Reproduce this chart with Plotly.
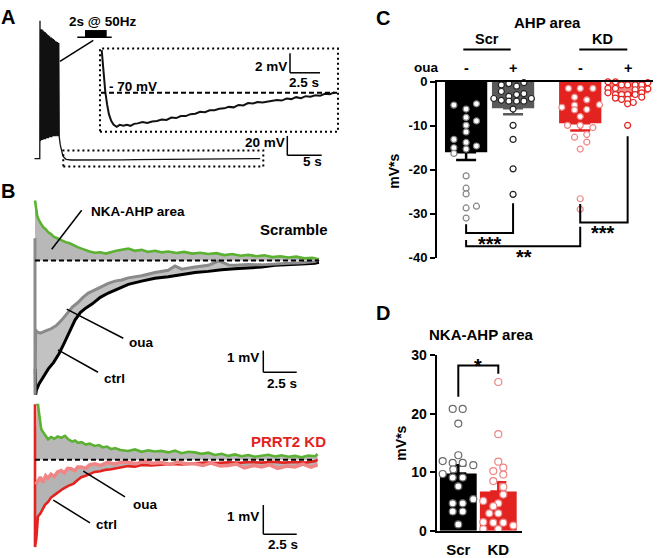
import plotly.graph_objects as go

W, H = 657, 558
FONT = "Liberation Sans"

# ---------------- Panel C : AHP area (mV*s) ----------------
c_groups = ["Scr ctrl", "Scr oua", "KD ctrl", "KD oua"]
c_means = [-16.0, -6.0, -9.4, -2.6]
c_sems = [1.8, 1.4, 1.7, 0.5]
c_scr_ctrl = [-5.3, -6.2, -5.0, -8.1, -9.9, -8.9, -11.4, -13.1, -15.0, -13.8, -14.6, -16.3, -15.3,
              -21.4, -24.2, -25.5, -28.7, -28.3, -31.0]
c_scr_oua = [-0.7, -0.4, -1.0, -0.2, -2.2, -3.3, -2.9, -2.7, -3.8, -4.2, -4.4, -4.4, -4.4, -3.8,
             -6.2, -9.9, -13.1, -19.8, -25.6]
c_kd_ctrl = [-1.5, -1.5, -1.5, -3.5, -4.1, -5.8, -5.3, -5.2, -6.4, -6.3, -7.9, -9.9, -9.9, -10.4,
             -12.6, -12.0, -13.7, -15.3, -26.6, -29.0]
c_kd_oua = [0.0, 0.0, -0.7, -0.7, -0.7, -0.7, -0.2, -1.5, -1.5, -1.8, -1.8, -1.6, -2.5, -2.9, -2.9,
            -2.9, -2.9, -2.5, -3.7, -4.0, -4.0, -3.5, -5.0, -4.7, -9.9]
# horizontal scatter of the dots (category units)
c_scr_ctrl_jit = [-0.26, 0, 0.22, 0, 0, 0.22, 0, -0.26, -0.26, 0, 0.22, -0.26, 0, 0, 0, 0, 0, 0.22, 0]
c_scr_oua_jit = [-0.25, -0.09, 0.075, 0.23, -0.25, -0.09, 0.075, 0.23, -0.41, -0.25, -0.09, 0.075,
                 0.23, 0.39, 0, 0, 0, 0, 0]
c_kd_ctrl_jit = [-0.25, 0, 0.27, -0.12, 0.14, -0.39, -0.12, 0.41, -0.12, 0.14, 0, -0.27, 0, 0.27,
                 -0.12, 0.14, 0.14, 0, 0, 0]
c_kd_oua_jit = [-0.42, -0.26, -0.13, 0, 0.16, 0.3, 0.43, -0.42, -0.26, 0.16, 0.3, 0.43, -0.42, -0.26,
                -0.13, 0, 0.16, 0.3, -0.26, -0.13, 0, 0.3, 0, 0.12, 0]
c_yticks = [0, -10, -20, -30, -40]

# ---------------- Panel D : NKA-AHP area (mV*s) ----------------
d_groups = ["Scr", "KD"]
d_means = [9.8, 6.7]
d_sems = [1.4, 1.6]
d_scr = [20.8, 20.8, 18.3, 12.9, 11.9, 11.6, 11.6, 11.2, 10.5, 9.7, 9.1, 9.1, 7.6, 5.4, 4.7, 4.7,
         3.3, 3.3, 1.1]
d_kd = [25.4, 16.5, 11.8, 10.8, 10.2, 9.6, 8.5, 7.5, 6.2, 5.1, 4.7, 4.2, 3.0, 3.0, 1.5, 1.4, 1.4,
        0.9, 0.3, 0.3]
d_scr_jit = [-0.14, 0.11, 0, 0, -0.39, -0.14, 0.11, 0.375, -0.125, -0.39, -0.14, 0.11, 0, 0.375,
             -0.14, 0.11, -0.14, 0.11, 0]
d_kd_jit = [0, 0, 0, 0.125, -0.125, 0.125, -0.125, 0.125, 0.125, -0.375, 0, -0.125, -0.225, 0,
            -0.375, -0.125, 0.125, 0.375, -0.375, 0]
d_yticks = [0, 10, 20, 30]

# ---------------- Panel A : train-evoked AHP (time s, Vm mV) ----------------
a_pre_t = [-0.8, -0.03]
a_pre_v = [-70.0, -70.0]
a_spike_t = [0.00, 0.07, 0.14, 0.21, 0.28, 0.35, 0.42, 0.49, 0.56, 0.63, 0.70, 0.77, 0.84, 0.91,
             0.98, 1.05, 1.12, 1.19, 1.26, 1.33, 1.40, 1.47, 1.54, 1.61, 1.68, 1.75, 1.82, 1.89,
             1.96, 2.03, 2.10, 2.17, 2.24, 2.31, 2.38, 2.45, 2.52, 2.59, 2.66, 2.73]
a_spike_peak = [72, 65, 63, 62, 63, 61, 62, 60, 61, 60, 59, 60, 58, 59, 57, 58, 57, 56, 57, 55,
                56, 55, 54, 55, 53, 54, 53, 52, 53, 51, 52, 51, 50, 51, 50, 49, 50, 49, 48, 49]
a_spike_trough = [-52, -51, -51, -51, -50, -51, -50, -50, -50, -50, -49, -50, -49, -49, -49, -49,
                  -48, -49, -48, -48, -48, -48, -48, -47, -48, -47, -47, -47, -47, -47, -47, -47,
                  -47, -46, -47, -47, -46, -47, -47, -48]
a_post_t = [2.8, 2.95, 3.1, 3.3, 3.5, 3.8, 4.5, 6, 8, 10, 12, 14, 16, 18, 20, 22, 24, 26, 28, 30, 32]
a_post_v = [-48, -56, -62, -66.5, -69, -70.8, -71.5, -71.6, -71.5, -71.4, -71.3, -71.2, -71.1,
            -71.0, -70.9, -70.8, -70.6, -70.5, -70.4, -70.3, -70.1]
# inset (zoom of the AHP)
ins_t = [0.0, 0.1, 0.2, 0.3, 0.45, 0.6, 0.8, 1.0, 1.25, 1.5, 1.8, 2.1, 2.4, 2.7, 3.0, 3.4, 3.8,
         4.2, 4.6, 5.0, 5.4, 5.8, 6.2, 6.6, 7.0, 7.4, 7.8, 8.2, 8.6, 9.0, 9.4, 9.8, 10.2, 10.6,
         11.0, 11.4, 11.8, 12.2, 12.6, 13.0, 13.4, 13.8, 14.2, 14.6, 15.0, 15.4, 15.8, 16.2, 16.6,
         17.0, 17.4, 17.8, 18.2, 18.6, 19.0, 19.4]
ins_v = [-65.6, -67.3, -68.6, -69.9, -71.2, -72.2, -72.9, -73.3, -73.5, -73.3, -73.4, -73.3, -73.4,
         -73.2, -73.15, -73.0, -73.1, -72.95, -72.9, -72.75, -72.8, -72.55, -72.6, -72.4, -72.4, -72.2,
         -72.15, -71.95, -72.0, -71.8, -71.8, -71.65, -71.6, -71.45, -71.5, -71.25, -71.3, -71.05, -71.1,
         -70.95, -71.0, -70.9, -70.85, -70.75, -70.8, -70.6, -70.65, -70.45, -70.55, -70.35, -70.4,
         -70.25, -70.3, -70.1, -70.15, -69.95]

# ---------------- Panel B : Scramble traces (time s, mV from baseline) ----------------
bs_green_t = [0, 0.08, 0.17, 0.3, 0.45, 0.6, 0.8, 1.0, 1.2, 1.4, 1.7, 2.0, 2.3, 2.6, 2.9, 3.2, 3.5,
              3.8, 4.1, 4.5, 4.9, 5.3, 5.7, 6.1, 6.5, 7.0, 7.5, 8.0, 8.5, 9.0, 9.5, 10.0, 10.6,
              11.2, 11.8, 12.4, 13.0, 13.6, 14.2, 14.8, 15.4, 16.0, 16.6, 17.2, 17.8, 18.4, 19.0,
              19.6, 20.2, 20.8, 21.3]
bs_green_v = [2.77, 2.3, 2.05, 1.85, 1.7, 1.55, 1.45, 1.3, 1.22, 1.1, 1.02, 0.92, 0.85, 0.8, 0.7,
              0.62, 0.55, 0.48, 0.42, 0.36, 0.38, 0.32, 0.4, 0.45, 0.5, 0.55, 0.45, 0.5, 0.4, 0.45,
              0.38, 0.42, 0.35, 0.4, 0.32, 0.36, 0.3, 0.34, 0.25, 0.3, 0.22, 0.26, 0.2, 0.24, 0.16,
              0.2, 0.14, 0.18, 0.1, 0.13, 0.06]
bs_ctrl_t = [0.02, 0.05, 0.1, 0.3, 0.6, 1.0, 1.4, 1.8, 2.2, 2.6, 3.0, 3.4, 3.8, 4.3, 4.9, 5.5, 6.2,
             7.0, 8.0, 9.0, 10.0, 11.0, 12.0, 13.0, 14.0, 15.0, 16.0, 17.0, 18.0, 19.0, 20.0, 21.0,
             21.3]
bs_ctrl_v = [-5.0, -6.2, -6.0, -5.7, -5.4, -5.0, -4.7, -4.3, -3.8, -3.3, -2.75, -2.4, -2.2, -2.0,
             -1.7, -1.5, -1.3, -1.1, -0.95, -0.82, -0.75, -0.65, -0.55, -0.5, -0.42, -0.38, -0.35,
             -0.3, -0.22, -0.2, -0.16, -0.12, -0.08]
bs_oua_t = [0.0, 0.0, 0.05, 0.15, 0.4, 0.8, 1.2, 1.6, 2.0, 2.4, 2.8, 3.2, 3.6, 4.0, 4.5, 5.0, 5.5,
            6.0, 6.5, 7.0, 7.5, 8.0, 9.0, 10.0, 10.5, 11.0, 12.0, 13.0, 13.8, 14.5, 15.0, 16.0,
            17.0, 18.0, 19.0, 20.0, 21.0, 21.3]
bs_oua_v = [1.03, -6.2, -3.2, -3.3, -3.35, -3.25, -3.15, -3.0, -2.75, -2.45, -2.15, -1.95, -1.7,
            -1.5, -1.35, -1.2, -1.05, -0.95, -0.9, -0.8, -0.75, -0.7, -0.55, -0.45, -0.25, -0.4,
            -0.3, -0.22, -0.02, -0.2, -0.22, -0.18, -0.2, -0.15, -0.12, -0.1, -0.05, 0.05]

# ---------------- Panel B : PRRT2 KD traces ----------------
bk_green_t = [0.15, 0.22, 0.3, 0.4, 0.47, 0.6, 0.75, 0.98, 1.2, 1.45, 1.7, 1.97, 2.25, 2.5, 2.8,
              3.0, 3.23, 3.5, 3.8, 4.1, 4.48, 4.8, 5.1, 5.4, 5.72, 6.0, 6.4, 6.98, 7.5, 8.0, 8.5,
              9.0, 9.47, 10.0, 10.5, 11.0, 11.5, 11.98, 12.5, 13.0, 13.5, 14.0, 14.5, 15.0, 15.5,
              16.0, 16.5, 17.0, 17.5, 18.0, 18.5, 19.0, 19.5, 20.0, 20.5, 21.0, 21.2]
bk_green_v = [1.85, 1.91, 1.6, 1.3, 1.05, 0.95, 0.85, 0.7, 0.78, 0.72, 0.8, 0.75, 0.82, 0.7, 0.62,
              0.66, 0.58, 0.6, 0.52, 0.55, 0.47, 0.5, 0.42, 0.45, 0.36, 0.4, 0.33, 0.3, 0.35, 0.27,
              0.32, 0.28, 0.3, 0.25, 0.31, 0.22, 0.27, 0.25, 0.2, 0.24, 0.16, 0.2, 0.13, 0.18, 0.12,
              0.16, 0.1, 0.13, 0.17, 0.11, 0.15, 0.1, 0.13, 0.08, 0.14, 0.12, 0.19]
bk_ctrl_t = [0, 0, 0.1, 0.22, 0.4, 0.55, 0.75, 0.98, 1.2, 1.5, 1.8, 2.1, 2.5, 2.9, 3.2, 3.47, 3.8,
             4.1, 4.48, 4.9, 5.3, 5.72, 6.2, 6.98, 7.5, 8.0, 8.7, 9.47, 10.2, 11.0, 11.98, 12.8,
             13.6, 14.5, 15.3, 16.1, 17.0, 17.8, 18.6, 19.5, 20.3, 21.0, 21.2]
bk_ctrl_v = [1.9, -3.0, -2.7, -1.95, -1.85, -1.7, -1.55, -1.45, -1.3, -1.2, -1.1, -1.0, -0.9, -0.82,
             -0.7, -0.6, -0.55, -0.48, -0.42, -0.4, -0.35, -0.33, -0.28, -0.22, -0.24, -0.18, -0.2,
             -0.17, -0.15, -0.16, -0.13, -0.1, -0.12, -0.09, -0.11, -0.08, -0.1, -0.07, -0.1,
             -0.08, -0.1, -0.05, 0.0]
bk_oua_t = [0.05, 0.22, 0.4, 0.6, 0.8, 0.98, 1.2, 1.45, 1.7, 1.97, 2.2, 2.45, 2.72, 3.0, 3.2, 3.47,
            3.8, 4.1, 4.48, 4.9, 5.4, 6.0, 6.5, 6.98, 7.6, 8.2, 8.8, 9.47, 10.1, 10.7, 11.3, 11.98,
            12.6, 13.2, 13.9, 14.5, 15.1, 15.7, 16.4, 17.0, 17.6, 18.2, 18.9, 19.5, 20.1, 20.7,
            21.2]
bk_oua_v = [-0.85, -0.75, -0.6, -0.78, -0.55, -0.64, -0.5, -0.58, -0.42, -0.37, -0.45, -0.3, -0.31,
            -0.38, -0.25, -0.25, -0.3, -0.18, -0.14, -0.2, -0.1, -0.15, -0.08, -0.09, -0.14, -0.06,
            -0.12, -0.1, -0.16, -0.08, -0.14, -0.14, -0.2, -0.12, -0.22, -0.2, -0.15, -0.28, -0.2,
            -0.25, -0.18, -0.3, -0.22, -0.25, -0.15, -0.26, -0.18]

# ---------------- colours ----------------
RED = "#e2231f"
PINK = "#f08585"
GREEN = "#5bb131"


def dx(p0, p1):
    return [p0 / W, p1 / W]


def dy(top, bottom):
    return [1 - bottom / H, 1 - top / H]


def bx(t):
    return f"<b>{t}</b>"


fig = go.Figure()

# ===== Panel C =====
c_pos = [1.0, 2.0, 3.43, 4.44]
c_bar_col = ["#000000", "#5a5a5a", RED, PINK]
c_err_col = ["#000000", "#5a5a5a", RED, RED]
for i in range(4):
    fig.add_trace(go.Bar(x=[c_pos[i]], y=[c_means[i]], width=0.9, marker=dict(color=c_bar_col[i], line=dict(width=0)),
                         error_y=dict(type="data", symmetric=False, array=[0], arrayminus=[c_sems[i]],
                                      color=c_err_col[i], thickness=2.5, width=10),
                         xaxis="x", yaxis="y"))
c_pts = [(c_scr_ctrl, c_scr_ctrl_jit, "#858585"), (c_scr_oua, c_scr_oua_jit, "#222222"),
         (c_kd_ctrl, c_kd_ctrl_jit, PINK), (c_kd_oua, c_kd_oua_jit, RED)]
for i, (vals, jit, col) in enumerate(c_pts):
    fig.add_trace(go.Scatter(x=[c_pos[i] + j for j in jit], y=vals, mode="markers", cliponaxis=False,
                             marker=dict(size=6, color="white", line=dict(color=col, width=1.2)),
                             xaxis="x", yaxis="y"))

# ===== Panel D =====
d_pos = [0, 1]
d_bar_col = ["#000000", RED]
for i in range(2):
    fig.add_trace(go.Bar(x=[d_pos[i]], y=[d_means[i]], width=0.92, marker=dict(color=d_bar_col[i], line=dict(width=0)),
                         error_y=dict(type="data", symmetric=False, array=[d_sems[i]], arrayminus=[0],
                                      color=d_bar_col[i], thickness=2.5, width=8),
                         xaxis="x2", yaxis="y2"))
for i, (vals, jit, col) in enumerate([(d_scr, d_scr_jit, "#6a6a6a"), (d_kd, d_kd_jit, PINK)]):
    fig.add_trace(go.Scatter(x=[d_pos[i] + j for j in jit], y=vals, mode="markers", cliponaxis=False,
                             marker=dict(size=7, color="white", line=dict(color=col, width=1.2)),
                             xaxis="x2", yaxis="y2"))

# ===== Panel A =====
a_t = list(a_pre_t)
a_v = list(a_pre_v)
for t, pk, tr in zip(a_spike_t, a_spike_peak, a_spike_trough):
    a_t += [t, t + 0.035]
    a_v += [pk, tr]
a_t += a_post_t
a_v += a_post_v
fig.add_trace(go.Scatter(x=a_t, y=a_v, mode="lines", line=dict(color="#111111", width=1.3),
                         xaxis="x3", yaxis="y3"))
fig.add_trace(go.Scatter(x=ins_t, y=ins_v, mode="lines", line=dict(color="#111111", width=2),
                         xaxis="x4", yaxis="y4"))

# ===== Panel B scramble =====
fig.add_trace(go.Scatter(x=[0, 21.3], y=[0, 0], mode="lines", line=dict(width=0), xaxis="x5", yaxis="y5"))
fig.add_trace(go.Scatter(x=bs_green_t, y=bs_green_v, mode="lines", line=dict(color=GREEN, width=2.6),
                         fill="tonexty", fillcolor="#b8b8b8", xaxis="x5", yaxis="y5"))
fig.add_trace(go.Scatter(x=bs_ctrl_t, y=bs_ctrl_v, mode="lines", line=dict(color="#000000", width=3),
                         xaxis="x5", yaxis="y5"))
fig.add_trace(go.Scatter(x=bs_oua_t, y=bs_oua_v, mode="lines", line=dict(color="#8a8a8a", width=3),
                         fill="tonexty", fillcolor="#c2c2c2", xaxis="x5", yaxis="y5"))
fig.add_trace(go.Scatter(x=[0, 21.3], y=[0, 0], mode="lines", line=dict(color="black", width=2, dash="5px,3px"),
                         xaxis="x5", yaxis="y5"))

# ===== Panel B KD =====
fig.add_trace(go.Scatter(x=[0, 21.2], y=[0, 0], mode="lines", line=dict(width=0), xaxis="x6", yaxis="y6"))
fig.add_trace(go.Scatter(x=bk_green_t, y=bk_green_v, mode="lines", line=dict(color=GREEN, width=2.6),
                         fill="tonexty", fillcolor="#b8b8b8", xaxis="x6", yaxis="y6"))
fig.add_trace(go.Scatter(x=bk_ctrl_t, y=bk_ctrl_v, mode="lines", line=dict(color=RED, width=2.6),
                         xaxis="x6", yaxis="y6"))
fig.add_trace(go.Scatter(x=bk_oua_t, y=bk_oua_v, mode="lines", line=dict(color=PINK, width=3.5),
                         fill="tonexty", fillcolor="#b4b4b4", xaxis="x6", yaxis="y6"))
fig.add_trace(go.Scatter(x=[0, 21.0], y=[0, 0], mode="lines", line=dict(color="black", width=2, dash="5px,3px"),
                         xaxis="x6", yaxis="y6"))

# ---------------- axes ----------------
hidden = dict(visible=False, fixedrange=True, showgrid=False, zeroline=False)
fig.update_layout(
    xaxis=dict(domain=dx(437, 653), range=[0.38, 4.98], side="top", anchor="y", showline=True, linewidth=2,
               linecolor="black", showticklabels=False, ticks="", showgrid=False, zeroline=False),
    yaxis=dict(domain=dy(76, 257), range=[-40, 0], anchor="x", showline=True, linewidth=2, linecolor="black",
               ticks="outside", ticklen=5, tickwidth=2, tickcolor="black", tickvals=c_yticks,
               ticktext=[bx(v) for v in c_yticks], tickfont=dict(family=FONT, size=13, color="black"),
               showgrid=False, zeroline=False),
    xaxis2=dict(domain=dx(436.7, 521.7), range=[-0.54, 1.585], anchor="y2", showline=True, linewidth=2,
                linecolor="black", ticks="", tickvals=d_pos, ticktext=[bx(g) for g in d_groups],
                ticklabelstandoff=4,
                tickfont=dict(family=FONT, size=15, color="black"), showgrid=False, zeroline=False),
    yaxis2=dict(domain=dy(357.3, 538.3), range=[0, 30], anchor="x2", showline=True, linewidth=2, linecolor="black",
                ticks="outside", ticklen=5, tickwidth=2, tickcolor="black", tickvals=d_yticks,
                ticktext=[bx(v) for v in d_yticks],
                tickfont=dict(family=FONT, size=14, color="black"), showgrid=False, zeroline=False),
    xaxis3=dict(domain=dx(30, 330), range=[-1.453, 42.15], anchor="y3", **hidden),
    yaxis3=dict(domain=dy(5, 170), range=[-85, 80], anchor="x3", **hidden),
    xaxis4=dict(domain=dx(100, 338), range=[-0.142, 19.69], anchor="y4", **hidden),
    yaxis4=dict(domain=dy(41.7, 127.3), range=[-74.0, -65.44], anchor="x4", **hidden),
    xaxis5=dict(domain=dx(30, 330), range=[-0.375, 22.13], anchor="y5", **hidden),
    yaxis5=dict(domain=dy(190, 400), range=[-6.278, 3.139], anchor="x5", **hidden),
    xaxis6=dict(domain=dx(30, 330), range=[-0.375, 22.13], anchor="y6", **hidden),
    yaxis6=dict(domain=dy(400, 558), range=[-3.1, 2.167], anchor="x6", **hidden),
)

# ---------------- shapes ----------------
shapes = []


def pline(x0, y0, x1, y1, w=1.5, color="black", dash=None):
    ln = dict(color=color, width=w)
    if dash:
        ln["dash"] = dash
    shapes.append(dict(type="line", xref="paper", yref="paper", x0=x0 / W, x1=x1 / W,
                       y0=1 - y0 / H, y1=1 - y1 / H, line=ln))


def prect(x0, y0, x1, y1, w=2, dash=None, fill=None):
    ln = dict(color="black", width=w)
    if dash:
        ln["dash"] = dash
    d = dict(type="rect", xref="paper", yref="paper", x0=x0 / W, x1=x1 / W, y0=1 - y1 / H, y1=1 - y0 / H, line=ln)
    if fill:
        d["fillcolor"] = fill
    shapes.append(d)


# Panel A
pline(60, 55, 93.3, 33.3, 1.5)
pline(77.3, 30, 111.7, 30, 1.5)
prect(85, 22.7, 106.7, 30, w=0, fill="black")
prect(100, 41.7, 338, 127.3, w=2, dash="2px,3px")
prect(63.3, 146.7, 263.3, 163.3, w=2, dash="2px,3px")
pline(101, 87.3, 337, 87.3, 2, dash="5px,3px")
pline(290, 46.7, 290, 66.7, 1.5)
pline(290, 66.7, 320, 66.7, 1.5)
pline(287.3, 131.7, 287.3, 151.7, 1.5)
pline(287.3, 151.7, 321.7, 151.7, 1.5)
# Panel B scramble
pline(51.7, 248.3, 81.7, 208.3, 1.5)
pline(66.7, 310, 123.3, 340, 1.5)
pline(58, 352, 98, 375, 1.5)
pline(263.3, 352.7, 263.3, 375, 1.5)
pline(263.3, 375, 296.7, 375, 1.5)
# Panel B KD
pline(83.3, 476.7, 125, 503.3, 1.5)
pline(53.3, 506.7, 90, 530, 1.5)
pline(263.3, 511.7, 263.3, 541.7, 1.5)
pline(263.3, 541.7, 296.7, 541.7, 1.5)
# Panel C header lines
pline(463.3, 42.7, 510.7, 42.7, 2)
pline(579.3, 42.7, 627.3, 42.7, 2)


def dpath(xref, yref, pts, w=2):
    path = "M " + " L ".join(f"{x},{y}" for x, y in pts)
    shapes.append(dict(type="path", xref=xref, yref=yref, path=path, line=dict(color="black", width=w)))


# significance brackets (panel C)
dpath("x", "y", [(c_pos[0], -32.4), (c_pos[0], -34.4), (c_pos[1], -34.4), (c_pos[1], -27.6)])
dpath("x", "y", [(c_pos[0], -36.0), (c_pos[0], -37.4), (c_pos[2], -37.4), (c_pos[2], -33.0)])
dpath("x", "y", [(c_pos[2], -27.8), (c_pos[2], -32.0), (c_pos[3], -32.0), (c_pos[3], -12.4)])
# panel D bracket
dpath("x2", "y2", [(d_pos[0], 22.9), (d_pos[0], 28.2), (d_pos[1], 28.2), (d_pos[1], 26.8)])

fig.update_layout(shapes=shapes)

# ---------------- annotations ----------------
anns = []


def ann(text, px, py, size=13.5, color="black", angle=0):
    anns.append(dict(text=bx(text), x=px / W, y=1 - py / H, xref="paper", yref="paper", showarrow=False,
                     font=dict(family=FONT, size=size, color=color), textangle=angle,
                     xanchor="center", yanchor="middle"))


ann("A", 7.5, 9, 20)
ann("2s @ 50Hz", 102, 14)
ann("- 70 mV", 132.5, 80.5)
ann("2 mV", 270.5, 60)
ann("2.5 s", 304, 77)
ann("20 mV", 265, 138)
ann("5 s", 312, 158)
ann("B", 7.5, 188.5, 20)
ann("NKA-AHP area", 137.5, 209)
ann("Scramble", 294, 227.7, 15)
ann("oua", 140.8, 344)
ann("1 mV", 242.5, 360)
ann("ctrl", 114.5, 381.7)
ann("2.5 s", 282, 386.5)
ann("PRRT2 KD", 288, 446, 15, RED)
ann("oua", 145, 511)
ann("ctrl", 106, 532)
ann("1 mV", 243, 523.5)
ann("2.5 s", 283, 552.5)
ann("C", 382.5, 10, 20)
ann("AHP area", 547, 15, 15)
ann("Scr", 486.7, 32, 14.5)
ann("KD", 602, 32, 14.5)
ann("oua", 426, 61.5)
for p, s in zip([466, 513.3, 580.7, 628.3], ["-", "+", "-", "+"]):
    ann(s, p, 61.5, 14.5)
ann("mV*s", 394, 168.5, 14, angle=-90)
ann("***", 490, 242.5, 20)
ann("**", 524, 256.5, 20)
ann("***", 603, 232, 20)
ann("D", 382.5, 313.5, 20)
ann("NKA-AHP area", 481.5, 336, 15)
ann("mV*s", 401, 448.5, 14, angle=-90)
ann("*", 477.5, 368.5, 20)

fig.update_layout(annotations=anns, width=W, height=H, margin=dict(l=0, r=0, t=0, b=0),
                  paper_bgcolor="white", plot_bgcolor="rgba(0,0,0,0)", showlegend=False, barmode="overlay",
                  font=dict(family=FONT))

fig.write_html("out.html", config={"displayModeBar": False},
               post_script="document.body.style.margin='0';document.body.style.overflow='hidden';")
